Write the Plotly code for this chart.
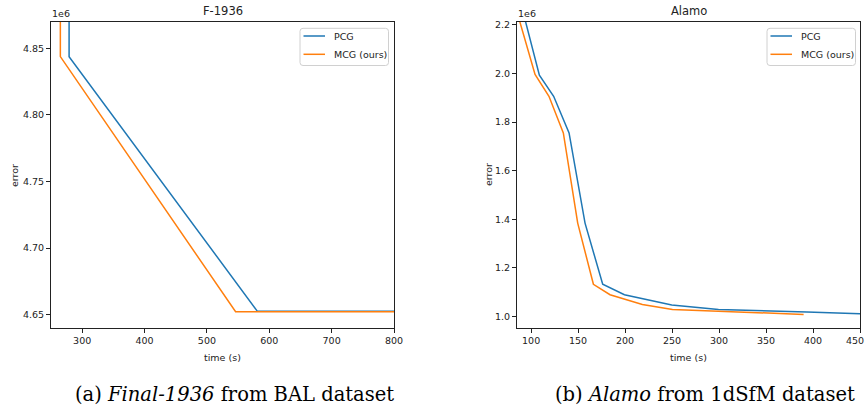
import plotly.graph_objects as go

# ---- data ----
f_pcg_t = [279, 279, 581, 800]
f_pcg_e = [4.95e6, 4.8437e6, 4.6525e6, 4.6525e6]
f_mcg_t = [265, 265, 546, 800]
f_mcg_e = [4.95e6, 4.8437e6, 4.6522e6, 4.6522e6]

a_pcg_t = [92, 108.8, 124, 140.4, 157.4, 176.2, 199.3, 249.7, 299.4, 349, 393.5, 450]
a_pcg_e = [2.245e6, 1.993e6, 1.906e6, 1.755e6, 1.384e6, 1.132e6, 1.089e6, 1.047e6, 1.028e6, 1.024e6, 1.018e6, 1.011e6]
a_mcg_t = [86, 104.2, 119, 134.3, 149.6, 166.3, 184, 218.4, 250.4, 299.4, 349, 390]
a_mcg_e = [2.24e6, 1.996e6, 1.906e6, 1.755e6, 1.384e6, 1.132e6, 1.089e6, 1.049e6, 1.028e6, 1.022e6, 1.013e6, 1.008e6]

f_yticks = [4.65e6, 4.70e6, 4.75e6, 4.80e6, 4.85e6]
f_ylabels = ["4.65", "4.70", "4.75", "4.80", "4.85"]
a_yticks = [1.0e6, 1.2e6, 1.4e6, 1.6e6, 1.8e6, 2.0e6, 2.2e6]
a_ylabels = ["1.0", "1.2", "1.4", "1.6", "1.8", "2.0", "2.2"]
f_xticks = [300, 400, 500, 600, 700, 800]
a_xticks = [100, 150, 200, 250, 300, 350, 400, 450]

series_names = ["PCG", "MCG (ours)"]

BLUE = "#1f77b4"
ORANGE = "#ff7f0e"
W, H = 867, 411
FONT = "DejaVu Sans"
TXT = "#222"

fig = go.Figure()
fig.add_trace(go.Scatter(x=f_pcg_t, y=f_pcg_e, mode="lines", name=series_names[0],
                         line=dict(color=BLUE, width=1.5), xaxis="x", yaxis="y"))
fig.add_trace(go.Scatter(x=f_mcg_t, y=f_mcg_e, mode="lines", name=series_names[1],
                         line=dict(color=ORANGE, width=1.5), xaxis="x", yaxis="y"))
fig.add_trace(go.Scatter(x=a_pcg_t, y=a_pcg_e, mode="lines", name=series_names[0],
                         line=dict(color=BLUE, width=1.5), xaxis="x2", yaxis="y2"))
fig.add_trace(go.Scatter(x=a_mcg_t, y=a_mcg_e, mode="lines", name=series_names[1],
                         line=dict(color=ORANGE, width=1.5), xaxis="x2", yaxis="y2"))

ydom = [1 - 328 / H, 1 - 22 / H]
axis_common = dict(showgrid=False, zeroline=False, showline=True, linecolor="#222", linewidth=1,
                   mirror=True, ticks="outside", ticklen=4, tickcolor="#222", automargin=False,
                   tickfont=dict(family=FONT, size=9.5, color=TXT))

fig.update_layout(
    template="none",
    width=W, height=H, margin=dict(l=0, r=0, t=0, b=0, pad=0, autoexpand=False),
    paper_bgcolor="white", plot_bgcolor="white",
    font=dict(family=FONT, color=TXT),
    showlegend=False,
    xaxis=dict(domain=[51 / W, 394 / W], range=[250, 800], anchor="y",
               tickvals=f_xticks, **axis_common),
    yaxis=dict(domain=ydom, range=[4.640e6, 4.8697e6], anchor="x",
               tickvals=f_yticks, ticktext=f_ylabels, **axis_common),
    xaxis2=dict(domain=[517 / W, 860 / W], range=[85, 450], anchor="y2",
                tickvals=a_xticks, **axis_common),
    yaxis2=dict(domain=ydom, range=[0.952e6, 2.212e6], anchor="x2",
                tickvals=a_yticks, ticktext=a_ylabels, **axis_common),
)

def ann(text, x, y, size, xanchor="center", yanchor="middle", angle=0, family=FONT, color=TXT):
    fig.add_annotation(text=text, x=x / W, y=1 - y / H, xref="paper", yref="paper",
                       showarrow=False, xanchor=xanchor, yanchor=yanchor, textangle=angle,
                       font=dict(family=family, size=size, color=color))

def px(x, y):
    return x / W, 1 - y / H

# last x tick label of right panel sits at the page edge (plotly drops it); keep it inside
ann(str(a_xticks[-1]), 866, 340.5, 9.5, xanchor="right")

# manual legends (matplotlib style)
def legend_box(x0, y0, x1, y1, r=3):
    ax0, ay0 = px(x0, y0)
    ax1, ay1 = px(x1, y1)
    rx, ry = r / W, r / H
    path = (f"M{ax0+rx},{ay0} L{ax1-rx},{ay0} Q{ax1},{ay0} {ax1},{ay0-ry} "
            f"L{ax1},{ay1+ry} Q{ax1},{ay1} {ax1-rx},{ay1} L{ax0+rx},{ay1} "
            f"Q{ax0},{ay1} {ax0},{ay1+ry} L{ax0},{ay0-ry} Q{ax0},{ay0} {ax0+rx},{ay0} Z")
    fig.add_shape(type="path", path=path, xref="paper", yref="paper",
                  line=dict(color="#d0d0d0", width=1), fillcolor="rgba(255,255,255,0.8)")

for lx in (300, 767):
    legend_box(lx, 28.3, lx + 88.5, 65.5)
    for i, (name, col) in enumerate(zip(series_names, [BLUE, ORANGE])):
        yy = 36 + i * 18.3
        x0, y0 = px(lx + 3.5, yy)
        x1, _ = px(lx + 25, yy)
        fig.add_shape(type="line", x0=x0, x1=x1, y0=y0, y1=y0, xref="paper", yref="paper",
                      line=dict(color=col, width=1.5))
        ann(name, lx + 31.5, yy, 9.5, xanchor="left")

# titles
ann("F-1936", 222.5, 10.5, 11.5)
ann("Alamo", 688.5, 10.5, 11.5)
# offset text
ann("1e6", 50, 14, 9.5, xanchor="left")
ann("1e6", 516, 14, 9.5, xanchor="left")
# axis titles
ann("time (s)", 222.5, 357, 9.5)
ann("time (s)", 688.5, 357, 9.5)
ann("error", 14, 175, 9.5, angle=-90)
ann("error", 488, 175, 9.5, angle=-90)
# captions
ann("(a) <i>Final-1936</i> from BAL dataset", 73, 394, 19.5, xanchor="left", family="DejaVu Serif", color="black")
ann("(b) <i>Alamo</i> from 1dSfM dataset", 553, 394, 19.5, xanchor="left", family="DejaVu Serif", color="black")

fig.write_html("out.html", config={"displayModeBar": False},
               post_script="document.documentElement.style.margin='0';document.body.style.margin='0';document.body.style.overflow='hidden';")
